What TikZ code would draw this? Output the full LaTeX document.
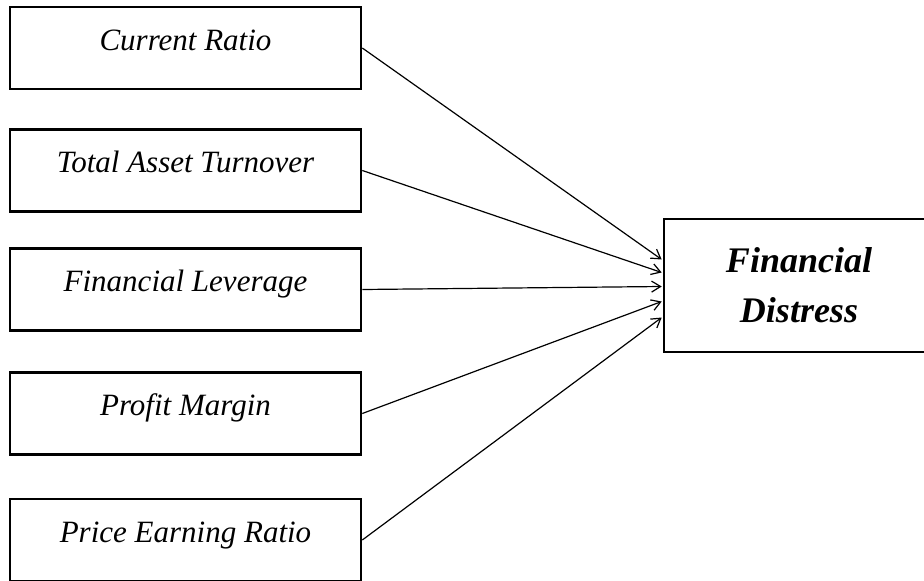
\documentclass[tikz,border=0pt]{standalone}
\usepackage{fontspec}
\setmainfont{Liberation Serif}
\usetikzlibrary{positioning,arrows.meta,calc}

\begin{document}
\begin{tikzpicture}[
    x=1pt, y=-1pt,
    boxstyle/.style={rectangle, draw, line width=2.6pt, inner sep=0pt},
    varbox/.style={boxstyle, minimum width=351pt, minimum height=82pt,
        text height=20pt, text depth=16pt, font=\fontsize{31}{36}\selectfont\itshape},
    distbox/.style={boxstyle, minimum width=270pt, minimum height=133pt, align=center,
        font=\fontsize{36}{50}\selectfont\bfseries\itshape},
    arrow/.style={-{Straight Barb[length=9pt,width=11pt]}, line width=1.2pt}
]
\useasboundingbox (0,0) rectangle (924,581);

% Independent variables (left column)
\node[varbox] (b1) at (185.5, 48) {Current Ratio};
\node[varbox] (b2) at (185.5, 170.5) {Total Asset Turnover};
\node[varbox] (b3) at (185.5, 289.5) {Financial Leverage};
\node[varbox] (b4) at (185.5, 413.5) {Profit Margin};
\node[varbox] (b5) at (185.5, 540) {Price Earning Ratio};

% Dependent variable (right)
\node[distbox] (fd) at (799, 285.5) {Financial\\Distress};

% Arrows into the west side of the distress box
\foreach \i/\o in {1/-26, 2/-13, 3/1, 4/16, 5/32} {
    \draw[arrow] (b\i.east) -- ($(fd.west)+(-1,\o)$);
}

\end{tikzpicture}
\end{document}
